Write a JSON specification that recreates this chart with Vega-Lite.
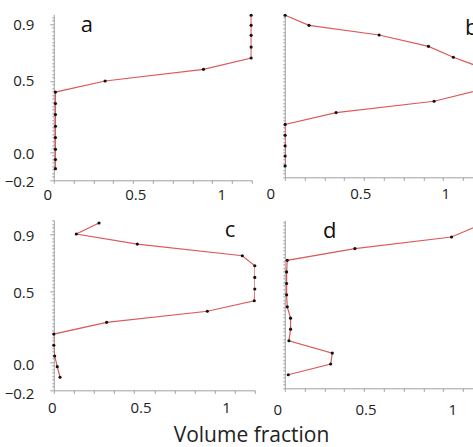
{
  "$schema": "https://vega.github.io/schema/vega-lite/v6.json",
  "padding": {"left": 3.8, "top": 9.3, "right": 0, "bottom": 0},
  "spacing": 12,
  "title": {"text": "Volume fraction", "orient": "bottom", "anchor": "middle", "fontSize": 21, "font": "Open Sans", "fontWeight": "normal", "color": "#222", "offset": 7, "dx": 12},
  "vconcat": [
    {
      "hconcat": [
        {
          "width": 198, "height": 166,
          "data": {"values": [
            {"i": 1, "x": 0.01, "y": -0.118}, {"i": 2, "x": 0.01, "y": -0.054}, {"i": 3, "x": 0.01, "y": 0.018},
            {"i": 4, "x": 0.01, "y": 0.101}, {"i": 5, "x": 0.01, "y": 0.181}, {"i": 6, "x": 0.01, "y": 0.263},
            {"i": 7, "x": 0.01, "y": 0.341}, {"i": 8, "x": 0.01, "y": 0.422}, {"i": 9, "x": 0.311, "y": 0.5},
            {"i": 10, "x": 0.907, "y": 0.582}, {"i": 11, "x": 1.196, "y": 0.662}, {"i": 12, "x": 1.196, "y": 0.739},
            {"i": 13, "x": 1.196, "y": 0.822}, {"i": 14, "x": 1.196, "y": 0.892}, {"i": 15, "x": 1.196, "y": 0.963}
          ]},
          "encoding": {
            "x": {"field": "x", "type": "quantitative", "scale": {"domain": [0, 1.2], "nice": false, "zero": false},
              "axis": {"title": null, "values": [0, 0.12, 0.24, 0.36, 0.48, 0.6, 0.72, 0.84, 0.96, 1.08, 1.2, 0.5, 1],
                "labelExpr": "datum.value == 0 || datum.value == 0.5 || datum.value == 1 ? format(datum.value, '~g') : ''",
                "tickSize": 3, "tickOpacity": {"condition": {"test": "datum.value == 0.5 || datum.value == 1", "value": 0}, "value": 1},
                "labelOffset": {"condition": [{"test": "datum.value == 0", "value": -6.5}, {"test": "datum.value == 1", "value": 2.5}], "value": -1},
                "labelPadding": 4, "labelOverlap": false, "labelFlush": false}},
            "y": {"field": "y", "type": "quantitative", "scale": {"domain": [-0.2, 0.97], "nice": false, "zero": false},
              "axis": {"title": null, "values": [-0.2,-0.175,-0.15,-0.125,-0.1,-0.075,-0.05,-0.025,0,0.025,0.05,0.075,0.1,0.125,0.15,0.175,0.2,0.225,0.25,0.275,0.3,0.325,0.35,0.375,0.4,0.425,0.45,0.475,0.5,0.525,0.55,0.575,0.6,0.625,0.65,0.675,0.7,0.725,0.75,0.775,0.8,0.825,0.85,0.875,0.9,0.925,0.95],
                "labelExpr": "datum.value == -0.2 || datum.value == 0 || datum.value == 0.5 || datum.value == 0.9 ? format(datum.value, '.1f') : ''",
                "tickSize": {"condition": {"test": "datum.value == -0.2 || datum.value == 0 || datum.value == 0.5 || datum.value == 0.9", "value": 4}, "value": 2},
                "labelOffset": {"condition": {"test": "datum.value < 0.3", "value": 1.5}, "value": 0},
                "labelPadding": 16, "labelOverlap": false, "labelFlush": false}}
          },
          "layer": [
            {"mark": {"type": "line", "color": "#dc5a5a", "strokeWidth": 1.2, "clip": true}, "encoding": {"order": {"field": "i", "type": "quantitative"}}},
            {"mark": {"type": "point", "filled": true, "color": "#111", "size": 10, "opacity": 1}, "transform": [{"filter": "datum.x <= 1.2"}]},
            {"data": {"values": [{"t": "a", "x": 0.2, "y": 0.845}]}, "mark": {"type": "text", "fontSize": 22, "font": "Open Sans", "color": "#111", "clip": true, "align": "center", "baseline": "alphabetic"}, "encoding": {"text": {"field": "t"}}}
          ]
        },
        {
          "width": 190, "height": 163,
          "data": {"values": [
            {"i": 1, "x": 0.002, "y": -0.12}, {"i": 2, "x": 0.002, "y": -0.05}, {"i": 3, "x": 0.002, "y": 0.021},
            {"i": 4, "x": 0.002, "y": 0.096}, {"i": 5, "x": 0.002, "y": 0.173}, {"i": 6, "x": 0.311, "y": 0.256},
            {"i": 7, "x": 0.905, "y": 0.336}, {"i": 8, "x": 1.2, "y": 0.42}, {"i": 9, "x": 1.2, "y": 0.57},
            {"i": 10, "x": 1.022, "y": 0.646}, {"i": 11, "x": 0.871, "y": 0.723}, {"i": 12, "x": 0.572, "y": 0.803},
            {"i": 13, "x": 0.147, "y": 0.871}, {"i": 14, "x": 0.002, "y": 0.942}
          ]},
          "encoding": {
            "x": {"field": "x", "type": "quantitative", "scale": {"domain": [0, 1.152], "nice": false, "zero": false},
              "axis": {"title": null, "values": [0, 0.12, 0.24, 0.36, 0.48, 0.6, 0.72, 0.84, 0.96, 1.08, 0.5, 1],
                "labelExpr": "datum.value == 0 || datum.value == 0.5 || datum.value == 1 ? format(datum.value, '~g') : ''",
                "tickSize": 3, "tickOpacity": {"condition": {"test": "datum.value == 0.5 || datum.value == 1", "value": 0}, "value": 1},
                "labelOffset": {"condition": [{"test": "datum.value == 0", "value": -14.5}, {"test": "datum.value == 0.5", "value": -7}], "value": -4.5},
                "labelPadding": 6.5, "labelOverlap": false, "labelFlush": false}},
            "y": {"field": "y", "type": "quantitative", "scale": {"domain": [-0.2, 0.949], "nice": false, "zero": false},
              "axis": {"title": null, "labels": false, "values": [-0.2,-0.175,-0.15,-0.125,-0.1,-0.075,-0.05,-0.025,0,0.025,0.05,0.075,0.1,0.125,0.15,0.175,0.2,0.225,0.25,0.275,0.3,0.325,0.35,0.375,0.4,0.425,0.45,0.475,0.5,0.525,0.55,0.575,0.6,0.625,0.65,0.675,0.7,0.725,0.75,0.775,0.8,0.825,0.85,0.875,0.9,0.925],
                "tickSize": 2}}
          },
          "layer": [
            {"mark": {"type": "line", "color": "#dc5a5a", "strokeWidth": 1.2, "clip": true}, "encoding": {"order": {"field": "i", "type": "quantitative"}}},
            {"mark": {"type": "point", "filled": true, "color": "#111", "size": 10, "opacity": 1}, "transform": [{"filter": "datum.x <= 1.15"}]},
            {"data": {"values": [{"t": "b", "x": 1.133, "y": 0.8}]}, "mark": {"type": "text", "fontSize": 22, "font": "Open Sans", "color": "#111", "clip": true, "align": "center", "baseline": "alphabetic"}, "encoding": {"text": {"field": "t"}}}
          ]
        }
      ],
      "spacing": 33,
      "bounds": "flush"
    },
    {
      "hconcat": [
        {
          "width": 201, "height": 170,
          "data": {"values": [
            {"i": 1, "x": 0.036, "y": -0.108}, {"i": 2, "x": 0.02, "y": -0.033}, {"i": 3, "x": 0.005, "y": 0.042},
            {"i": 4, "x": 0.0, "y": 0.118}, {"i": 5, "x": 0.0, "y": 0.197}, {"i": 6, "x": 0.305, "y": 0.28},
            {"i": 7, "x": 0.886, "y": 0.358}, {"i": 8, "x": 1.157, "y": 0.432}, {"i": 9, "x": 1.16, "y": 0.515},
            {"i": 10, "x": 1.16, "y": 0.597}, {"i": 11, "x": 1.16, "y": 0.679}, {"i": 12, "x": 1.088, "y": 0.75},
            {"i": 13, "x": 0.482, "y": 0.832}, {"i": 14, "x": 0.13, "y": 0.903}, {"i": 15, "x": 0.261, "y": 0.981}
          ]},
          "encoding": {
            "x": {"field": "x", "type": "quantitative", "scale": {"domain": [0, 1.16], "nice": false, "zero": false},
              "axis": {"title": null, "values": [0, 0.116, 0.232, 0.348, 0.464, 0.58, 0.696, 0.812, 0.928, 1.044, 1.16, 0.5, 1],
                "labelExpr": "datum.value == 0 || datum.value == 0.5 || datum.value == 1 ? format(datum.value, '~g') : ''",
                "tickSize": 3, "tickOpacity": {"condition": {"test": "datum.value == 0.5 || datum.value == 1", "value": 0}, "value": 1},
                "labelOffset": {"condition": [{"test": "datum.value == 0", "value": -2}, {"test": "datum.value == 1", "value": -1}], "value": 0},
                "labelPadding": 7.5, "labelOverlap": false, "labelFlush": false}},
            "y": {"field": "y", "type": "quantitative", "scale": {"domain": [-0.2, 1.0], "nice": false, "zero": false},
              "axis": {"title": null, "values": [-0.2,-0.175,-0.15,-0.125,-0.1,-0.075,-0.05,-0.025,0,0.025,0.05,0.075,0.1,0.125,0.15,0.175,0.2,0.225,0.25,0.275,0.3,0.325,0.35,0.375,0.4,0.425,0.45,0.475,0.5,0.525,0.55,0.575,0.6,0.625,0.65,0.675,0.7,0.725,0.75,0.775,0.8,0.825,0.85,0.875,0.9,0.925,0.95,0.975,1.0],
                "labelExpr": "datum.value == -0.2 || datum.value == 0 || datum.value == 0.5 || datum.value == 0.9 ? format(datum.value, '.1f') : ''",
                "tickSize": {"condition": {"test": "datum.value == -0.2 || datum.value == 0 || datum.value == 0.5 || datum.value == 0.9", "value": 4}, "value": 2},
                "labelOffset": {"condition": {"test": "datum.value < 0.3", "value": 3}, "value": 1},
                "labelPadding": 16, "labelOverlap": false, "labelFlush": false}}
          },
          "layer": [
            {"mark": {"type": "line", "color": "#dc5a5a", "strokeWidth": 1.2, "clip": true}, "encoding": {"order": {"field": "i", "type": "quantitative"}}},
            {"mark": {"type": "point", "filled": true, "color": "#111", "size": 10, "opacity": 1}},
            {"data": {"values": [{"t": "c", "x": 1.017, "y": 0.88}]}, "mark": {"type": "text", "fontSize": 22, "font": "Open Sans", "color": "#111", "clip": true, "align": "center", "baseline": "alphabetic"}, "encoding": {"text": {"field": "t"}}}
          ]
        },
        {
          "width": 190, "height": 168,
          "data": {"values": [
            {"i": 1, "x": 0.021, "y": -0.104}, {"i": 2, "x": 0.278, "y": -0.028}, {"i": 3, "x": 0.288, "y": 0.049},
            {"i": 4, "x": 0.025, "y": 0.136}, {"i": 5, "x": 0.035, "y": 0.218}, {"i": 6, "x": 0.035, "y": 0.296},
            {"i": 7, "x": 0.015, "y": 0.376}, {"i": 8, "x": 0.011, "y": 0.461}, {"i": 9, "x": 0.011, "y": 0.541},
            {"i": 10, "x": 0.011, "y": 0.623}, {"i": 11, "x": 0.015, "y": 0.705}, {"i": 12, "x": 0.425, "y": 0.788},
            {"i": 13, "x": 1.011, "y": 0.87}, {"i": 14, "x": 1.2, "y": 0.963}
          ]},
          "encoding": {
            "x": {"field": "x", "type": "quantitative", "scale": {"domain": [0, 1.152], "nice": false, "zero": false},
              "axis": {"title": null, "values": [0, 0.12, 0.24, 0.36, 0.48, 0.6, 0.72, 0.84, 0.96, 1.08, 0.5, 1],
                "labelExpr": "datum.value == 0 || datum.value == 0.5 || datum.value == 1 ? format(datum.value, '~g') : ''",
                "tickSize": 3, "tickOpacity": {"condition": {"test": "datum.value == 0.5 || datum.value == 1", "value": 0}, "value": 1},
                "labelOffset": {"condition": [{"test": "datum.value == 0", "value": -7.5}, {"test": "datum.value == 0.5", "value": -1.7}], "value": 2.5},
                "labelPadding": 11.5, "labelOverlap": false, "labelFlush": false}},
            "y": {"field": "y", "type": "quantitative", "scale": {"domain": [-0.2, 0.988], "nice": false, "zero": false},
              "axis": {"title": null, "labels": false, "values": [-0.2,-0.175,-0.15,-0.125,-0.1,-0.075,-0.05,-0.025,0,0.025,0.05,0.075,0.1,0.125,0.15,0.175,0.2,0.225,0.25,0.275,0.3,0.325,0.35,0.375,0.4,0.425,0.45,0.475,0.5,0.525,0.55,0.575,0.6,0.625,0.65,0.675,0.7,0.725,0.75,0.775,0.8,0.825,0.85,0.875,0.9,0.925,0.95,0.975],
                "tickSize": 2}}
          },
          "layer": [
            {"mark": {"type": "line", "color": "#dc5a5a", "strokeWidth": 1.2, "clip": true}, "encoding": {"order": {"field": "i", "type": "quantitative"}}},
            {"mark": {"type": "point", "filled": true, "color": "#111", "size": 10, "opacity": 1}, "transform": [{"filter": "datum.x <= 1.15"}]},
            {"data": {"values": [{"t": "d", "x": 0.272, "y": 0.861}]}, "mark": {"type": "text", "fontSize": 22, "font": "Open Sans", "color": "#111", "clip": true, "align": "center", "baseline": "alphabetic"}, "encoding": {"text": {"field": "t"}}}
          ]
        }
      ],
      "spacing": 30,
      "bounds": "flush"
    }
  ],
  "config": {
    "view": {"stroke": null},
    "axis": {"domainColor": "#a0a0a0", "tickColor": "#a0a0a0", "labelFont": "Open Sans", "labelFontSize": 15, "labelColor": "#222", "grid": false}
  }
}
